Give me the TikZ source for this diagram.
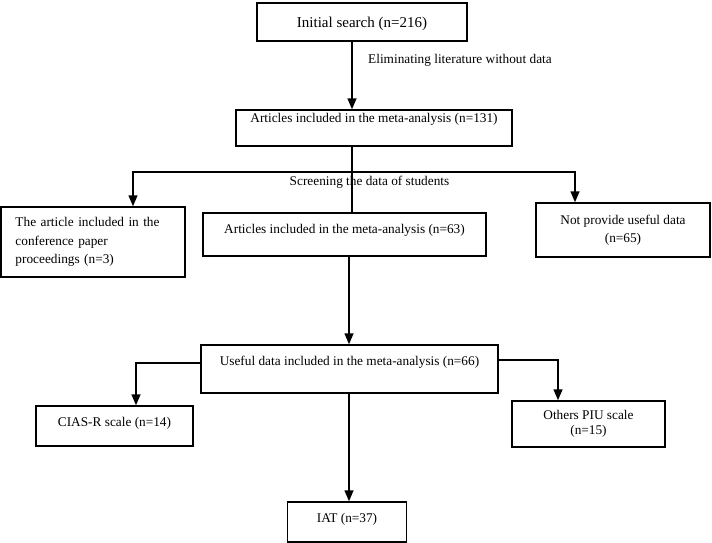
\documentclass[tikz,border=0pt]{standalone}
\usepackage{fontspec}
\setmainfont{Liberation Serif}
\usetikzlibrary{arrows.meta, positioning}

\begin{document}
\begin{tikzpicture}[x=1pt, y=-1pt,
    every node/.style={font=\fontsize{13.3}{18}\selectfont},
    box/.style={draw, line width=1.5pt, inner xsep=0pt, inner ysep=0pt, anchor=base},
    tallbox/.style={draw, line width=1.5pt, inner xsep=0pt, inner ysep=0pt, align=center},
    arr/.style={line width=1.5pt, -{Triangle[length=11pt,width=9pt]}},
    lnk/.style={line width=1.5pt}]
    \useasboundingbox (0,0) rectangle (712,543);

    \node[box, minimum width=210pt, text height=25pt, text depth=13pt,
        font=\fontsize{15}{18}\selectfont] (init) at (362,28) {Initial search (n=216)};
    \node[box, minimum width=276pt, text height=12pt, text depth=24pt] (art131) at (374,122) {Articles included in the meta-analysis (n=131)};
    \node[anchor=west, inner sep=0pt] (elim) at (368,60) {Eliminating literature without data};

    \node[tallbox, minimum width=184pt, minimum height=70pt, text width=155pt, align=left, inner xsep=14.5pt,
        font=\fontsize{13.3}{18.5}\selectfont] (proc) at (93,242)
        {The article included in the\\conference paper\\proceedings (n=3)};
    \node[box, minimum width=283pt, text height=20pt, text depth=23pt] (n63) at (344.5,233) {Articles included in the meta-analysis (n=63)};
    \node[tallbox, minimum width=174pt, minimum height=54pt] (nodata) at (623,230) {Not provide useful data\\(n=65)};
    \node[inner sep=0pt] (screen) at (369.5,182) {Screening the data of students};

    \node[box, minimum width=297pt, text height=20pt, text depth=28pt] (useful) at (349.5,365) {Useful data included in the meta-analysis (n=66)};
    \node[box, minimum width=157pt, text height=20pt, text depth=20pt] (cias) at (114.5,426) {CIAS-R scale (n=14)};
    \node[tallbox, minimum width=153pt, minimum height=46pt, font=\fontsize{13.3}{15}\selectfont] (others) at (588.5,424) {Others PIU scale\\(n=15)};
    \node[box, minimum width=119pt, text height=20pt, text depth=20pt] (iat) at (347,522) {IAT (n=37)};

    \coordinate (split) at (352,172);

    \draw[arr] ([xshift=-10pt]init.south) -- ([xshift=-10pt]init.south |- art131.north);
    \draw[lnk] (art131.south -| split) -- (n63.north -| split);
    \draw[arr] (split) -| ([xshift=40pt]proc.north);
    \draw[arr] (split) -| ([xshift=-48pt]nodata.north);
    \draw[arr] ([xshift=4.5pt]n63.south) -- ([xshift=4.5pt]n63.south |- useful.north);
    \draw[arr] ([yshift=6pt]useful.west) -| ([xshift=21.5pt]cias.north);
    \draw[arr] ([yshift=9pt]useful.east) -| ([xshift=-30.5pt]others.north);
    \draw[arr] ([xshift=-0.5pt]useful.south) -- ([xshift=-0.5pt]useful.south |- iat.north);
\end{tikzpicture}
\end{document}
